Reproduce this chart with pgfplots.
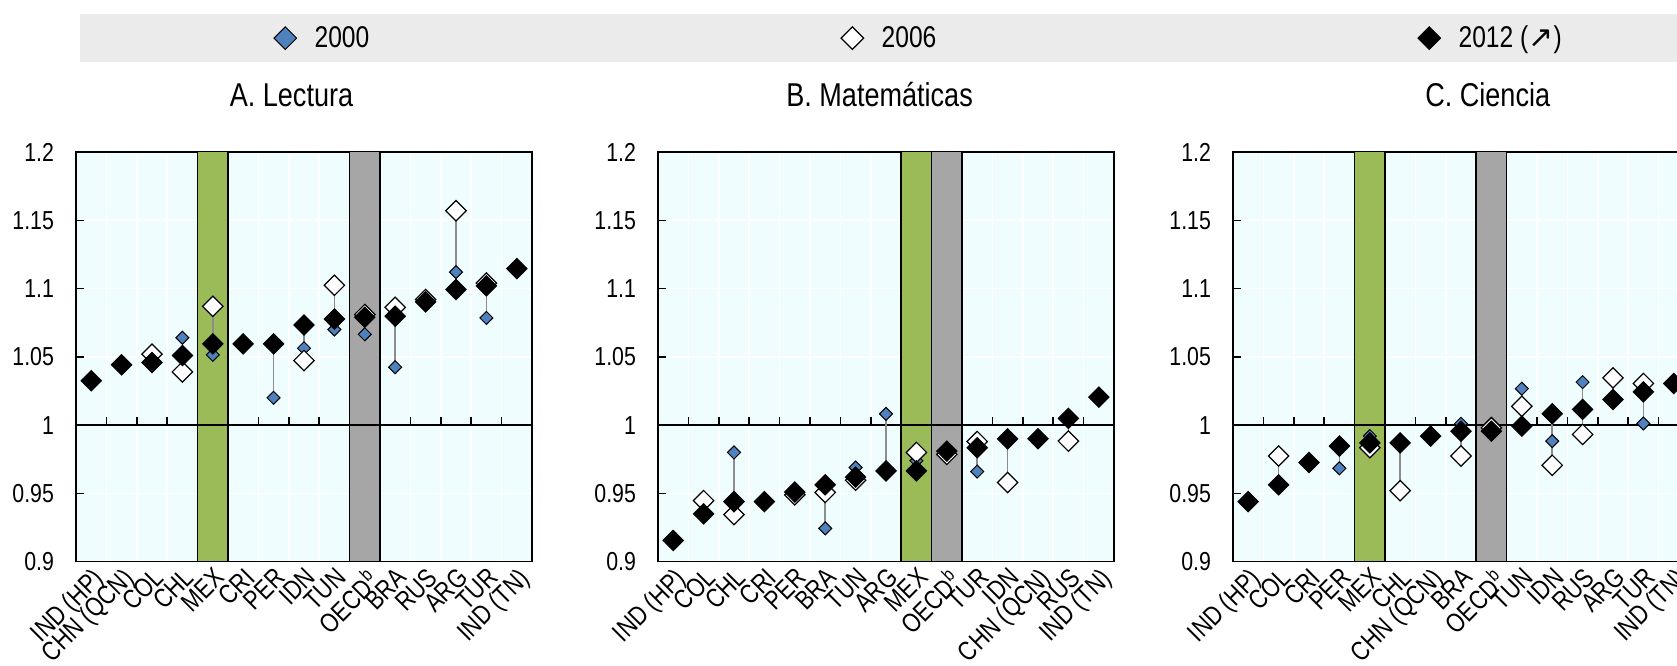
\documentclass[border=0pt]{standalone}
\usepackage{fontspec}
\setmainfont{Liberation Sans}[FakeStretch=0.82]
\newfontfamily\symfont{DejaVu Sans}
\usepackage{pgfplots}
\pgfplotsset{compat=1.18}
\usepackage{pgfplotstable}

\definecolor{bg}{HTML}{F0FDFF}
\definecolor{bandgreen}{HTML}{9BBB59}
\definecolor{bandgray}{HTML}{A6A6A6}
\definecolor{blue00}{HTML}{4F81BD}
\definecolor{linegray}{HTML}{8C8C8C}
\definecolor{keybg}{HTML}{EBEBEB}

% x y00 (2000) y06 (2006) y12 (2012)
\pgfplotstableread{
x y00 y06 y12
0 nan nan 1.0325
1 nan nan 1.0442
2 nan 1.052 1.0459
3 1.064 1.039 1.051
4 1.0515 1.087 1.0595
5 nan nan 1.0595
6 1.020 nan 1.0595
7 1.0563 1.0473 1.0733
8 1.070 1.1024 1.0777
9 1.0665 1.081 1.079
10 1.0424 1.0863 1.0798
11 nan 1.092 1.0902
12 1.112 1.157 1.0993
13 1.0785 1.104 1.102
14 nan nan 1.1146
}\lectura

\pgfplotstableread{
x y00 y06 y12
0 nan nan 0.9156
1 nan 0.9447 0.935
2 0.980 0.9345 0.944
3 nan nan 0.944
4 nan 0.949 0.951
5 0.9244 0.9507 0.9563
6 0.969 0.9597 0.962
7 1.0083 nan 0.9665
8 0.974 0.980 0.9665
9 0.980 0.9786 0.981
10 0.966 0.988 0.9834
11 nan 0.958 0.990
12 nan nan 0.990
13 nan 0.9883 1.0049
14 nan nan 1.0205
}\matematicas

\pgfplotstableread{
x y00 y06 y12
0 nan nan 0.944
1 nan 0.9774 0.9563
2 nan nan 0.9726
3 0.9684 nan 0.9847
4 0.992 0.9835 0.987
5 nan 0.952 0.987
6 nan nan 0.992
7 1.001 0.9774 0.9956
8 1.001 0.998 0.9956
9 1.0267 1.0138 0.9993
10 0.9883 0.9706 1.0083
11 1.0315 0.9932 1.0115
12 nan 1.0346 1.0188
13 1.0012 1.0305 1.0244
14 nan nan 1.0305
}\ciencia

\pgfplotsset{
  panel/.style={
    scale only axis, width=228pt, height=204.85pt,
    xmin=-0.5, xmax=14.5, ymin=0.9, ymax=1.2,
    ytick={0.9,0.95,1,1.05,1.1,1.15,1.2},
    yticklabels={0.9,0.95,1,1.05,1.1,1.15,1.2},
    xtick={0,...,14},
    minor xtick={0.5,1.5,...,13.5},
    xminorgrids=true, ymajorgrids=true,
    major grid style={white, line width=0.8pt},
    minor grid style={white, line width=0.8pt},
    axis background/.style={fill=bg},
    axis line style={black, line width=0.75pt},
    ytick pos=left, tick align=inside, major tick length=4pt,
    x tick style={draw=none},
    y tick style={black, line width=0.75pt},
    xticklabel style={rotate=45, anchor=north east, inner sep=1.5pt,
      font=\fontsize{13.4}{14}\selectfont},
    yticklabel style={font=\fontsize{13}{15}\selectfont, xshift=-7.5pt},
    title style={font=\fontsize{16.5}{18}\selectfont, anchor=base},
    legend style={draw=none, fill=none, anchor=west, inner sep=0pt,
      font=\fontsize{15}{17}\selectfont, column sep=9pt, nodes={inner sep=0pt}},
    legend image code/.code={\draw[##1, mark size=4pt] plot coordinates {(0pt,0pt)};},
  },
  s00/.style={only marks, mark=square*, mark size=2.3pt,
    mark options={rotate=45, fill=blue00, draw=black, line width=0.5pt}},
  s06/.style={only marks, mark=square*, mark size=3.6pt,
    mark options={rotate=45, fill=white, draw=black, line width=0.6pt}},
  s12/.style={only marks, mark=square*, mark size=3.6pt,
    mark options={rotate=45, fill=black, draw=black, line width=0.5pt}},
  band/.style={ybar, bar width=1, bar shift=0pt, draw=black, line width=0.75pt, forget plot},
  conn/.style={linegray, line width=0.75pt, unbounded coords=jump, forget plot},
  unity/.style={black, line width=0.75pt, forget plot},
}

\newcommand\unityticks{%
  \pgfplotsinvokeforeach{0.5,1.5,...,13.5}{\draw[black, line width=0.75pt] (axis cs:##1,1) -- ++(0pt,4pt);}%
}

\begin{document}
\begin{tikzpicture}
\fill[keybg] (40pt,-6.8pt) rectangle (838.5pt,-31pt);

% A. Lectura
\begin{axis}[panel, at={(38pt,-280.85pt)}, anchor=south west,
  title={A. Lectura}, title style={at={(0.4726,1.0815)}},
  legend style={at={(0.4333,1.278)}},
  xticklabels={IND (HP),CHN (QCN),COL,CHL,MEX,CRI,PER,IDN,TUN,OECD\textsuperscript{b},BRA,RUS,ARG,TUR,IND (TN)}]
  \addplot[band, fill=bandgreen] coordinates {(4,1.3)};
  \addplot[band, fill=bandgray] coordinates {(9,1.3)};
  \addplot[unity] coordinates {(-0.5,1) (14.5,1)};
  \unityticks
  \addplot[conn] coordinates {(2,1.0459)(2,1.052)(2,nan)
    (3,1.039)(3,1.064)(3,nan) (4,1.0515)(4,1.087)(4,nan)
    (6,1.020)(6,1.0595)(6,nan) (7,1.0473)(7,1.0733)(7,nan)
    (8,1.070)(8,1.1024)(8,nan) (9,1.0665)(9,1.081)(9,nan)
    (10,1.0424)(10,1.0863)(10,nan) (11,1.0902)(11,1.092)(11,nan)
    (12,1.0993)(12,1.157)(12,nan) (13,1.0785)(13,1.104)};
  \addplot[s00] table[x=x, y=y00] {\lectura};
  \addlegendentry{2000}
  \addplot[s06, forget plot] table[x=x, y=y06] {\lectura};
  \addplot[s12, forget plot] table[x=x, y=y12] {\lectura};
\end{axis}

% B. Matematicas
\begin{axis}[panel, at={(329pt,-280.85pt)}, anchor=south west,
  title={B. Matemáticas}, title style={at={(0.486,1.0815)}},
  legend style={at={(0.4006,1.278)}},
  xticklabels={IND (HP),COL,CHL,CRI,PER,BRA,TUN,ARG,MEX,OECD\textsuperscript{b},TUR,IDN,CHN (QCN),RUS,IND (TN)}]
  \addplot[band, fill=bandgreen] coordinates {(8,1.3)};
  \addplot[band, fill=bandgray] coordinates {(9,1.3)};
  \addplot[unity] coordinates {(-0.5,1) (14.5,1)};
  \unityticks
  \addplot[conn] coordinates {(1,0.935)(1,0.9447)(1,nan)
    (2,0.9345)(2,0.980)(2,nan) (4,0.949)(4,0.951)(4,nan)
    (5,0.9244)(5,0.9563)(5,nan) (6,0.9597)(6,0.969)(6,nan)
    (7,0.9665)(7,1.0083)(7,nan) (8,0.9665)(8,0.980)(8,nan)
    (9,0.9786)(9,0.981)(9,nan) (10,0.966)(10,0.988)(10,nan)
    (11,0.958)(11,0.990)(11,nan) (13,0.9883)(13,1.0049)};
  \addplot[s00, forget plot] table[x=x, y=y00] {\matematicas};
  \addplot[s06] table[x=x, y=y06] {\matematicas};
  \addlegendentry{2006}
  \addplot[s12, forget plot] table[x=x, y=y12] {\matematicas};
\end{axis}

% C. Ciencia
\begin{axis}[panel, at={(616.5pt,-280.85pt)}, anchor=south west,
  title={C. Ciencia}, title style={at={(0.5586,1.0815)}},
  legend style={at={(0.4048,1.278)}},
  xticklabels={IND (HP),COL,CRI,PER,MEX,CHL,CHN (QCN),BRA,OECD\textsuperscript{b},TUN,IDN,RUS,ARG,TUR,IND (TN)}]
  \addplot[band, fill=bandgreen] coordinates {(4,1.3)};
  \addplot[band, fill=bandgray] coordinates {(8,1.3)};
  \addplot[unity] coordinates {(-0.5,1) (14.5,1)};
  \unityticks
  \addplot[conn] coordinates {(1,0.9563)(1,0.9774)(1,nan)
    (3,0.9684)(3,0.9847)(3,nan) (4,0.9835)(4,0.992)(4,nan)
    (5,0.952)(5,0.987)(5,nan) (7,0.9774)(7,1.001)(7,nan)
    (8,0.9956)(8,1.001)(8,nan) (9,0.9993)(9,1.0267)(9,nan)
    (10,0.9706)(10,1.0083)(10,nan) (11,0.9932)(11,1.0315)(11,nan)
    (12,1.0188)(12,1.0346)(12,nan) (13,1.0012)(13,1.0305)};
  \addplot[s00, forget plot] table[x=x, y=y00] {\ciencia};
  \addplot[s06, forget plot] table[x=x, y=y06] {\ciencia};
  \addplot[s12] table[x=x, y=y12] {\ciencia};
  \addlegendentry{2012 ({\symfont ↗})}
\end{axis}

\pgfresetboundingbox
\path[use as bounding box] (0pt,0pt) rectangle (838.5pt,-332.5pt);
\end{tikzpicture}
\end{document}
